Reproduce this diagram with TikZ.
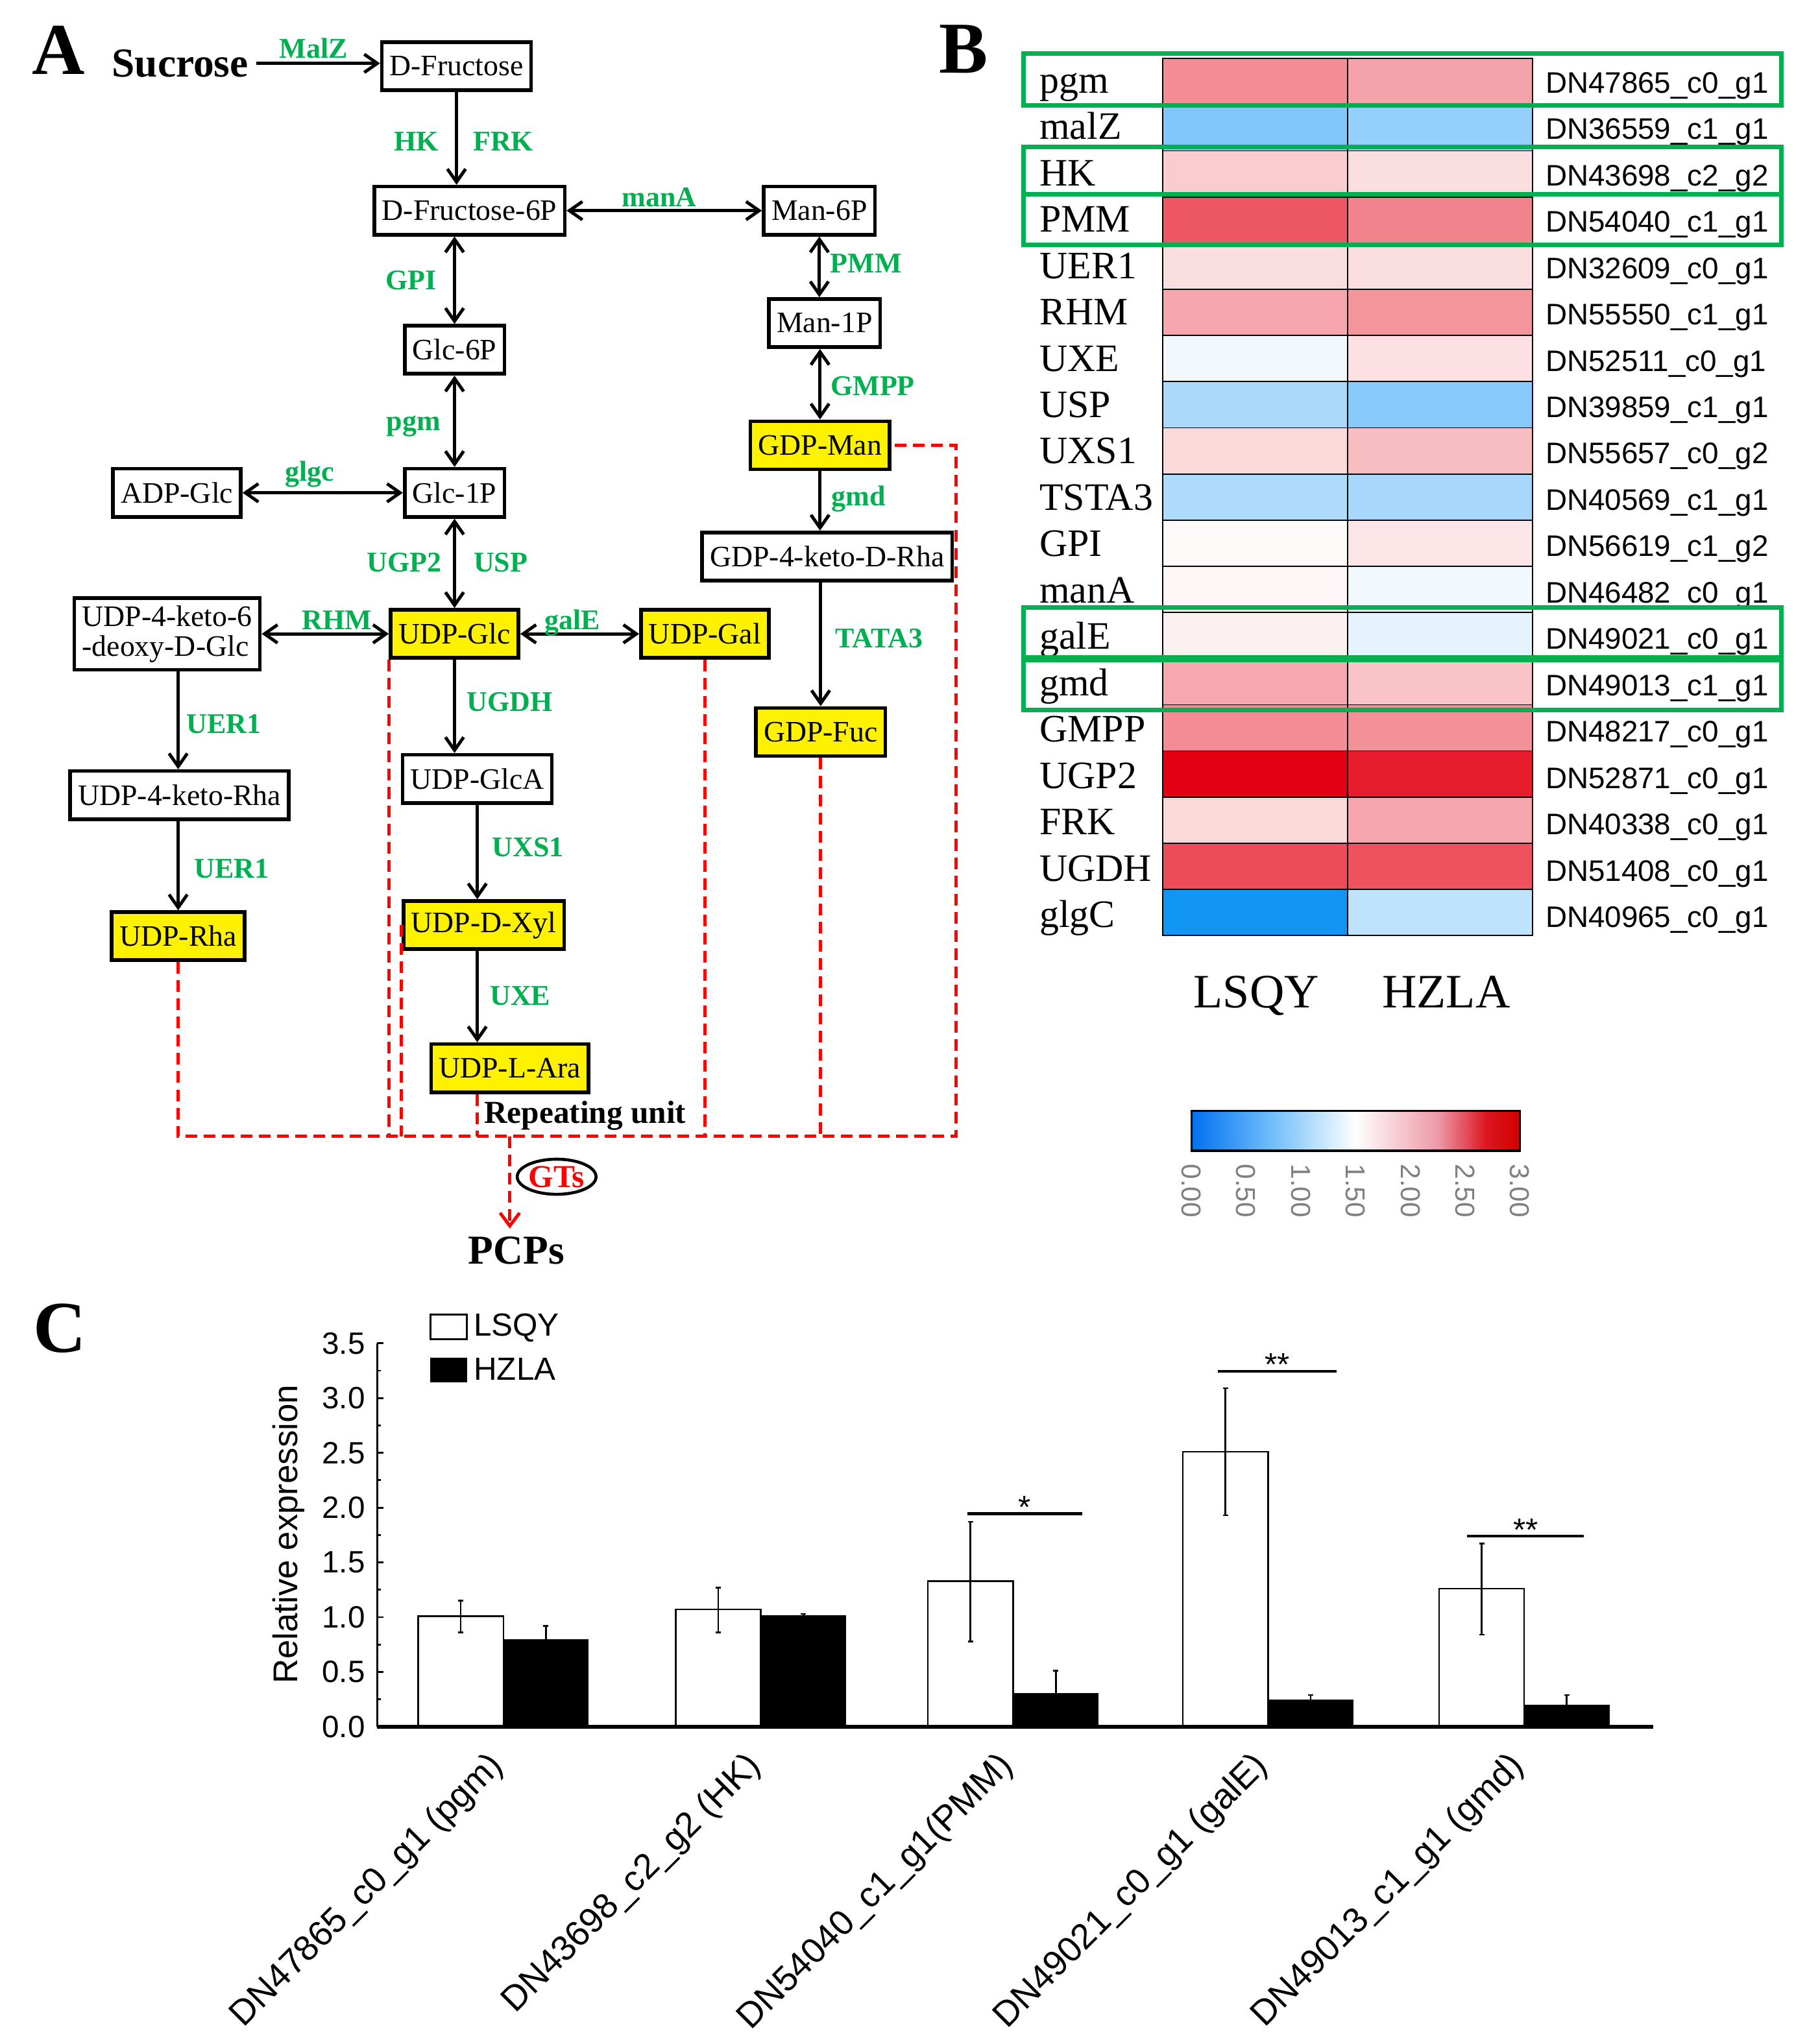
\documentclass[tikz,border=0pt]{standalone}
\usepackage{fontspec}
\setmainfont{Liberation Serif}
\newfontfamily\arialfont{Liberation Sans}
\usetikzlibrary{arrows.meta,shapes.geometric,calc}
\definecolor{enzgreen}{RGB}{0,176,80}
\definecolor{hred}{RGB}{228,0,18}
\definecolor{hblue}{RGB}{18,150,245}
\newcommand{\fsz}[1]{\fontsize{#1}{#1}\selectfont}
\pgfdeclarehorizontalshading{heatbar}{100bp}{rgb(0bp)=(0,0.44,0.94); rgb(25bp)=(0,0.44,0.94); rgb(37.5bp)=(0.45,0.75,0.98); rgb(50bp)=(1,1,1); rgb(62.5bp)=(0.93,0.6,0.66); rgb(70bp)=(0.86,0.08,0.12); rgb(75bp)=(0.82,0,0); rgb(100bp)=(0.82,0,0)}
\tikzset{met/.style={draw, line width=1.6pt, minimum height=0.74cm, inner xsep=0.12cm, font=\fsz{13}},
  ymet/.style={met, fill=yellow},
  enz/.style={text=enzgreen, font=\bfseries\fsz{12.5}, anchor=base, inner sep=0pt},
  arr/.style={-{Straight Barb[length=0.2cm,width=0.28cm]}, line width=1.4pt},
  darr/.style={{Straight Barb[length=0.2cm,width=0.28cm]}-{Straight Barb[length=0.2cm,width=0.28cm]}, line width=1.4pt},
  rdash/.style={red, line width=1.4pt, dash pattern=on 0.18cm off 0.1cm},
  cell/.style={draw=black, line width=0.5pt},
  gbox/.style={draw=enzgreen, line width=2pt},
  panel/.style={font=\bfseries\fsz{32}, anchor=base},
  ebar/.style={line width=0.8pt}}

\begin{document}
\begin{tikzpicture}[x=0.02cm, y=-0.02cm]
\useasboundingbox (0,0) rectangle (1389,1572);

% A: pathway
\node[panel] (lblA) at (45,57) {A};
\node[font=\bfseries\fsz{18}, anchor=base] (suc) at (138.5,59) {Sucrose};
\node[met] (fru) at (351,51) {D-Fructose};
\node[met] (f6p) at (361,162) {D-Fructose-6P};
\node[met] (m6p) at (630,162) {Man-6P};
\node[met] (m1p) at (634,248.5) {Man-1P};
\node[ymet] (gman) at (630.5,342.5) {GDP-Man};
\node[met] (g4k) at (636,428) {GDP-4-keto-D-Rha};
\node[ymet] (gfuc) at (631,563) {GDP-Fuc};
\node[met] (g6p) at (349.5,269) {Glc-6P};
\node[met] (g1p) at (349.5,379) {Glc-1P};
\node[met] (adp) at (136,379) {ADP-Glc};
\node[ymet] (uglc) at (349.5,487.5) {UDP-Glc};
\node[ymet] (ugal) at (542,487.5) {UDP-Gal};
\node[met, align=left] (uk6) at (128.5,487.5) {UDP-4-keto-6\\-deoxy-D-Glc};
\node[met] (ugca) at (367,599) {UDP-GlcA};
\node[ymet] (uxyl) at (372,711.5) {UDP-D-Xyl};
\node[ymet] (uara) at (392,821.5) {UDP-L-Ara};
\node[met] (ukr) at (138,611.5) {UDP-4-keto-Rha};
\node[ymet] (urha) at (137,720) {UDP-Rha};

\draw[arr] (suc.east) -- (suc.east -| fru.west);
\draw[arr] (fru.south) -- (fru.south |- f6p.north);
\draw[darr] (f6p.east) -- (m6p.west);
\draw[darr] (g6p.north |- f6p.south) -- (g6p.north);
\draw[darr] (g6p.south) -- (g1p.north);
\draw[darr] (g1p.south) -- (uglc.north);
\draw[darr] (adp.east) -- (g1p.west);
\draw[darr] (m6p.south) -- (m6p.south |- m1p.north);
\draw[darr] (gman.north |- m1p.south) -- (gman.north);
\draw[arr] (gman.south) -- (gman.south |- g4k.north);
\draw[arr] (gfuc.north |- g4k.south) -- (gfuc.north);
\draw[darr] (uk6.east) -- (uglc.west);
\draw[darr] (uglc.east) -- (ugal.west);
\draw[arr] (uglc.south) -- (uglc.south |- ugca.north);
\draw[arr] (ugca.south) -- (ugca.south |- uxyl.north);
\draw[arr] (ugca.south |- uxyl.south) -- (ugca.south |- uara.north);
\draw[arr] (urha.north |- uk6.south) -- (urha.north |- ukr.north);
\draw[arr] (urha.north |- ukr.south) -- (urha.north);

\node[enz] (eMalZ) at (241,44.5) {MalZ};
\node[enz] (eHK) at (320,116) {HK};
\node[enz] (eFRK) at (387,116) {FRK};
\node[enz] (emanA) at (507,159) {manA};
\node[enz] (ePMM) at (666,210) {PMM};
\node[enz] (eGMPP) at (671,304) {GMPP};
\node[enz] (egmd) at (660,389) {gmd};
\node[enz] (eGPI) at (316,223) {GPI};
\node[enz] (epgm) at (318,331) {pgm};
\node[enz] (eglgc) at (238,370) {glgc};
\node[enz] (eUGP) at (311,440) {UGP2};
\node[enz] (eUSP) at (385,440) {USP};
\node[enz] (eRHM) at (259,484) {RHM};
\node[enz] (egalE) at (440,484) {galE};
\node[enz] (eTATA) at (676,498) {TATA3};
\node[enz] (eUGDH) at (392,547) {UGDH};
\node[enz] (eUXS) at (406,659) {UXS1};
\node[enz] (eUXE) at (400,773) {UXE};
\node[enz] (eUERa) at (172,564) {UER1};
\node[enz] (eUERb) at (178,675) {UER1};

% repeating unit
\coordinate (bl) at (137,874);
\coordinate (br) at (735,874);
\coordinate (gtl) at (392,874);
\node[font=\bfseries\fsz{14}, anchor=base west, inner sep=0pt] (rep) at (372,864) {Repeating unit};
\node[font=\bfseries\fsz{18}, anchor=base] (pcp) at (397,972) {PCPs};
\node[ellipse, draw, line width=1.3pt, minimum width=1.2cm, minimum height=0.54cm, inner sep=0pt, text=red, font=\bfseries\fsz{14}] (gts) at (428,905) {GTs};
\draw[rdash] (urha.south) -- (urha.south |- bl) -- (br) |- (gman.east);
\draw[rdash] (uglc.south west) -- (uglc.south west |- bl);
\draw[rdash] (uxyl.west) -- (uxyl.west |- bl);
\draw[rdash] (ugca.south |- uara.south) -- (ugca.south |- bl);
\draw[rdash] (ugal.south) -- (ugal.south |- bl);
\draw[rdash] (gfuc.south) -- (gfuc.south |- bl);
\draw[rdash, -{Straight Barb[length=0.2cm,width=0.3cm]}] (gtl) -- (gtl |- pcp.north);

% B: heatmap
\node[panel] (lblB) at (741,56) {B};
\foreach \gn/\gid/\ca/\cb [count=\i from 0] in {pgm/DN47865\_c0\_g1/hred!45/hred!36,
  malZ/DN36559\_c1\_g1/hblue!53/hblue!45, HK/DN43698\_c2\_g2/hred!20/hred!13,
  PMM/DN54040\_c1\_g1/hred!66/hred!49, UER1/DN32609\_c0\_g1/hred!13/hred!13,
  RHM/DN55550\_c1\_g1/hred!35/hred!42, UXE/DN52511\_c0\_g1/hblue!6/hred!12,
  USP/DN39859\_c1\_g1/hblue!36/hblue!51, UXS1/DN55657\_c0\_g2/hred!15/hred!26,
  TSTA3/DN40569\_c1\_g1/hblue!34/hblue!37, GPI/DN56619\_c1\_g2/hred!2/hred!10,
  manA/DN46482\_c0\_g1/hred!4/hblue!6, galE/DN49021\_c0\_g1/hred!6/hblue!11,
  gmd/DN49013\_c1\_g1/hred!34/hred!23, GMPP/DN48217\_c0\_g1/hred!45/hred!43,
  UGP2/DN52871\_c0\_g1/hred!100/hred!89, FRK/DN40338\_c0\_g1/hred!15/hred!35,
  UGDH/DN51408\_c0\_g1/hred!70/hred!68, glgC/DN40965\_c0\_g1/hblue!100/hblue!27}
{
  \pgfmathsetmacro\yt{45+35.5*\i}
  \pgfmathsetmacro\yb{71.5+35.65*\i}
  \draw[cell, fill=\ca] (894,\yt) rectangle (1036,{\yt+35.5});
  \draw[cell, fill=\cb] (1036,\yt) rectangle (1178.5,{\yt+35.5});
  \node[anchor=base west, inner sep=0pt, font=\fsz{17}] (g\i) at (799,\yb) {\gn};
  \node[anchor=base west, inner sep=0pt, font=\arialfont\fsz{13}] (d\i) at (1188,\yb) {\gid};
}
\draw[gbox] (787,41) rectangle (1369.5,81);
\draw[gbox] (787,113) rectangle (1369.5,149.5);
\draw[gbox] (787,149.5) rectangle (1369.5,188.5);
\draw[gbox] (787,467) rectangle (1369.5,505.5);
\draw[gbox] (787,507.5) rectangle (1369.5,546);
\node[anchor=base, font=\fsz{21}] (cLSQY) at (966,775) {LSQY};
\node[anchor=base, font=\fsz{21}] (cHZLA) at (1112,775) {HZLA};
\shade[shading=heatbar] (916,854.4) rectangle (1168.6,885);
\draw[line width=0.9pt] (916,854.4) rectangle (1168.6,885);
\foreach \v [count=\k from 0] in {0.00,0.50,1.00,1.50,2.00,2.50,3.00}
  \node[rotate=-90, anchor=west, inner sep=0pt, text=gray, font=\arialfont\fsz{12}] (t\k) at ({916+42.1*\k},895) {\v};

% C: qPCR bars
\node[panel] (lblC) at (46,1040) {C};
\node[rotate=90, font=\arialfont\fsz{15}] (ylab) at (222,1180) {Relative expression};
\draw[line width=0.8pt] (331,1011) rectangle (359,1030);
\node[anchor=west, inner sep=0pt, font=\arialfont\fsz{14}] (lgA) at (364,1021) {LSQY};
\fill (331,1044) rectangle (359,1063);
\node[anchor=west, inner sep=0pt, font=\arialfont\fsz{14}] (lgB) at (364,1053) {HZLA};
\begin{scope}[shift={(290,1328)}, y=1.6858cm]
  \draw[line width=0.8pt] (0,0) -- (0,3.5);
  \foreach \v/\vt in {0/0.0,0.5/0.5,1/1.0,1.5/1.5,2/2.0,2.5/2.5,3/3.0,3.5/3.5} {
    \draw[line width=0.8pt] (0,\v) -- (5,\v);
    \node[anchor=east, inner sep=0pt, font=\arialfont\fsz{13.5}] at (-9,\v) {\vt};
  }
  \foreach \v in {0.25,0.75,...,3.25}
    \draw[line width=0.8pt] (0,\v) -- (3,\v);
  \foreach \gc/\wv/\wlo/\whi/\bv/\bhi/\lab in {97/1.01/0.86/1.15/0.80/0.92/{DN47865\_c0\_g1 (pgm)},
    295/1.07/0.86/1.27/1.02/1.03/{DN43698\_c2\_g2 (HK)},
    489/1.33/0.78/1.87/0.31/0.51/{DN54040\_c1\_g1(PMM)},
    685/2.51/1.93/3.09/0.25/0.29/{DN49021\_c0\_g1 (galE)},
    882/1.26/0.84/1.67/0.20/0.29/{DN49013\_c1\_g1 (gmd)}}
  {
    \draw[line width=0.7pt, fill=white] ({\gc-65.5},0) rectangle (\gc,\wv);
    \fill[black] (\gc,0) rectangle ({\gc+65.5},\bv);
    \draw[ebar] ({\gc-32.75},\wlo) -- ({\gc-32.75},\whi);
    \draw[ebar] ({\gc-34.75},\wlo) -- ++(4,0) ({\gc-34.75},\whi) -- ++(4,0);
    \draw[ebar] ({\gc+32.75},\bv) -- ({\gc+32.75},\bhi);
    \draw[ebar] ({\gc+30.75},\bhi) -- ++(4,0);
    \node[rotate=45, anchor=east, inner sep=0pt, font=\arialfont\fsz{15.5}] at ({\gc-4},-0.31) {\lab};
  }
  \draw[line width=1.6pt] (0,0) -- (981,0);
  \draw[line width=1.2pt] (453.7,1.945) -- (542.3,1.945) node[midway, anchor=base, yshift=-2pt, font=\arialfont\fsz{14}] (s1) {*};
  \draw[line width=1.2pt] (646.3,3.245) -- (737.7,3.245) node[midway, anchor=base, yshift=-2pt, font=\arialfont\fsz{14}] (s2) {**};
  \draw[line width=1.2pt] (838,1.74) -- (928,1.74) node[midway, anchor=base, yshift=-2pt, font=\arialfont\fsz{14}] (s3) {**};
\end{scope}
\end{tikzpicture}
\end{document}
